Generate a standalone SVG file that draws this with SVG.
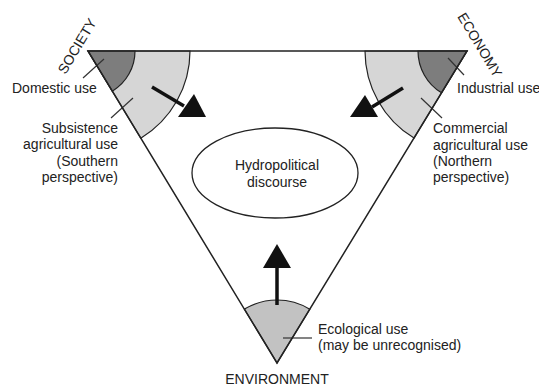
<svg xmlns="http://www.w3.org/2000/svg" width="539" height="388" viewBox="0 0 539 388">
<style>
text{font-family:"Liberation Sans",Arial,sans-serif;font-size:14px;fill:#222}
.edge{fill:none;stroke:#222;stroke-width:1.5}
.lead{stroke:#333;stroke-width:1.2}
.dark{fill:#7d7d7d;stroke:#222;stroke-width:1.2}
.light{fill:#d6d6d6;stroke:#222;stroke-width:1.2}
.mid{fill:#c2c2c2;stroke:#222;stroke-width:1.2}
.shaft{stroke:#111;stroke-width:3.5}
.head{fill:#111}
</style>
<rect width="539" height="388" fill="#fff"/>
<g id="society">
<path class="light" d="M88,51 L190,51 A102,102 0 0 1 140.8,138.2 Z"/>
<path class="dark" d="M88,51 L135,51 A47,47 0 0 1 112.3,91.2 Z"/>
<text transform="translate(77,46) rotate(-59)" text-anchor="middle" y="5">SOCIETY</text>
<line class="lead" x1="83" y1="78" x2="104" y2="59"/>
<text x="12" y="93">Domestic use</text>
<line class="lead" x1="111" y1="118" x2="133" y2="98"/>
<text text-anchor="end" x="118"><tspan x="118" y="133">Subsistence</tspan><tspan x="118" y="149">agricultural use</tspan><tspan x="118" y="166">(Southern</tspan><tspan x="118" y="182">perspective)</tspan></text>
</g>
<g id="economy">
<path class="light" d="M467,51 L365,51 A102,102 0 0 0 414,138.1 Z"/>
<path class="dark" d="M467,51 L418,51 A49,49 0 0 0 441.5,92.8 Z"/>
<text transform="translate(480,45) rotate(59)" text-anchor="middle" y="5">ECONOMY</text>
<line class="lead" x1="448" y1="58" x2="464" y2="75"/>
<text x="457" y="93">Industrial use</text>
<line class="lead" x1="421" y1="98" x2="442" y2="118"/>
<text x="433"><tspan x="433" y="133">Commercial</tspan><tspan x="433" y="150">agricultural use</tspan><tspan x="433" y="166">(Northern</tspan><tspan x="433" y="182">perspective)</tspan></text>
</g>
<g id="environment">
<path class="mid" d="M277,363 L244.4,309.1 A63,63 0 0 1 309.8,309.2 Z"/>
<line class="lead" x1="283" y1="338" x2="312" y2="338"/>
<text x="318"><tspan x="318" y="334">Ecological use</tspan><tspan x="318" y="350">(may be unrecognised)</tspan></text>
<text x="277" y="384" text-anchor="middle">ENVIRONMENT</text>
</g>
<g id="triangle">
<path class="edge" d="M88,51 L467,51 L277,363 Z"/>
</g>
<g id="discourse">
<ellipse cx="275" cy="173" rx="83" ry="45" fill="none" stroke="#222" stroke-width="1.3"/>
<text text-anchor="middle"><tspan x="277" y="170">Hydropolitical</tspan><tspan x="277" y="187">discourse</tspan></text>
</g>
<g id="connectors">
<line class="shaft" x1="152" y1="87" x2="184" y2="106"/>
<polygon class="head" points="194,94 206,117 178,117"/>
<line class="shaft" x1="403" y1="88" x2="372" y2="107"/>
<polygon class="head" points="365,95 378,117 350,117"/>
<line class="shaft" x1="277" y1="305" x2="277" y2="266"/>
<polygon class="head" points="277,244 263,268 291,268"/>
</g>
</svg>
